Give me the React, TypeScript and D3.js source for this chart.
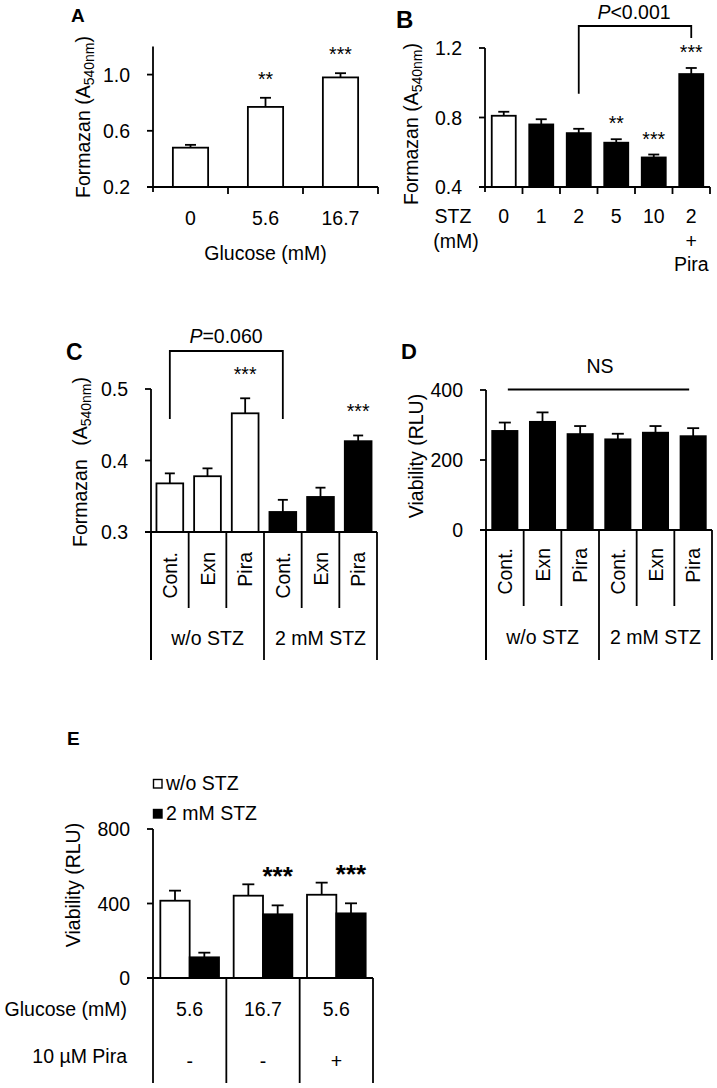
import React from "react";
import * as d3 from "d3";

const FONT = "'Liberation Sans', Arial, Helvetica, sans-serif";
const FS = 19.5;
const SW = 1.8;

// A: formazan vs glucose
const glucoseLevels = ["0", "5.6", "16.7"];
const glucoseMeans = [0.48, 0.77, 0.98];
const glucoseErrs = [0.02, 0.065, 0.03];
const glucoseStars = ["", "**", "***"];
const ticksA = [0.2, 0.6, 1.0];

// B: formazan vs STZ dose
const stzDoses = ["0", "1", "2", "5", "10", "2"];
const stzExtra = ["", "", "", "", "", "Pira"];
const stzTreated = [false, true, true, true, true, true];
const stzMeans = [0.81, 0.76, 0.71, 0.655, 0.57, 1.05];
const stzErrs = [0.023, 0.03, 0.025, 0.02, 0.017, 0.035];
const stzStars = ["", "", "", "**", "***", "***"];
const ticksB = [0.4, 0.8, 1.2];

// C & D: treatments with / without STZ
const treatments = ["Cont.", "Exn", "Pira", "Cont.", "Exn", "Pira"];
const treatGroups = ["w/o STZ", "2 mM STZ"];
const treatStz = [false, false, false, true, true, true];
const formazanMeans = [0.368, 0.378, 0.466, 0.328, 0.349, 0.427];
const formazanErrs = [0.014, 0.011, 0.021, 0.017, 0.013, 0.008];
const formazanStars = ["", "", "***", "", "", "***"];
const ticksC = [0.3, 0.4, 0.5];
const viabilityMeans = [283, 309, 274, 259, 278, 268];
const viabilityErrs = [24, 27, 23, 16, 19, 23];
const ticksD = [0, 200, 400];

// E: viability, glucose / pira
const eSeries = ["w/o STZ", "2 mM STZ"];
const eGlucose = ["5.6", "16.7", "5.6"];
const ePira = ["-", "-", "+"];
const eNoStz = [415, 442, 447];
const eNoStzErr = [54, 61, 65];
const eStz = [111, 342, 347];
const eStzErr = [25, 48, 54];
const eStars = ["", "***", "***"];
const ticksE = [0, 400, 800];

type Lin = d3.ScaleLinear<number, number>;

function YAxis({ x, y, ticks, fmt, bottom }: { x: number; y: Lin; ticks: number[]; fmt: (v: number) => string; bottom: number }) {
  const [, d1] = y.domain();
  return (
    <g>
      <line x1={x} x2={x} y1={y(d1)} y2={bottom} stroke="#000" strokeWidth={SW} />
      {ticks.map((t) => (
        <g key={t}>
          <line x1={x - 6} x2={x} y1={y(t)} y2={y(t)} stroke="#000" strokeWidth={SW} />
          <text x={x - 23} y={y(t)} dy="0.36em" textAnchor="end" fontSize={FS}>
            {fmt(t)}
          </text>
        </g>
      ))}
    </g>
  );
}

function Bar({ cx, w, y, mean, err, fill, cap = 11 }: { cx: number; w: number; y: Lin; mean: number; err: number; fill: string; cap?: number }) {
  const base = y(y.domain()[0]);
  const top = y(mean);
  const et = y(mean + err);
  return (
    <g>
      <line x1={cx} x2={cx} y1={top} y2={et} stroke="#000" strokeWidth={SW} />
      <line x1={cx - cap / 2} x2={cx + cap / 2} y1={et} y2={et} stroke="#000" strokeWidth={SW} />
      <rect x={cx - w / 2} y={top} width={w} height={base - top} fill={fill} stroke="#000" strokeWidth={SW} />
    </g>
  );
}

function FormazanLabel({ x, y, gap = 0 }: { x: number; y: number; gap?: number }) {
  return (
    <text transform={`translate(${x},${y}) rotate(-90)`} textAnchor="middle" fontSize={FS}>
      Formazan
      <tspan dx={gap}> (A</tspan>
      <tspan fontSize={14} dy={4}>540nm</tspan>
      <tspan dy={-4}>)</tspan>
    </text>
  );
}

function PanelA() {
  const x = d3.scaleBand<number>().domain(d3.range(glucoseLevels.length)).range([153, 378]);
  const y = d3.scaleLinear().domain([0.2, 1.2]).range([187, 46.5]);
  const w = x.bandwidth() * 0.47;
  const c = (i: number) => (x(i) as number) + x.bandwidth() / 2;
  return (
    <g>
      <text x={71} y={22} fontSize={19} fontWeight="bold">A</text>
      <FormazanLabel x={90} y={117} />
      {glucoseMeans.map((m, i) => (
        <Bar key={i} cx={c(i)} w={w} y={y} mean={m} err={glucoseErrs[i]} fill="#fff" />
      ))}
      <YAxis x={153} y={y} ticks={ticksA} fmt={d3.format(".1f")} bottom={192} />
      <line x1={147} x2={378} y1={y(0.2)} y2={y(0.2)} stroke="#000" strokeWidth={SW} />
      {d3.range(1, glucoseLevels.length + 1).map((i) => (
        <line key={i} x1={153 + i * x.step()} x2={153 + i * x.step()} y1={y(0.2)} y2={y(0.2) + 7} stroke="#000" strokeWidth={SW} />
      ))}
      {glucoseStars.map((s, i) => (
        <text key={i} x={c(i)} y={y(glucoseMeans[i] + glucoseErrs[i]) - 12} textAnchor="middle" fontSize={FS}>{s}</text>
      ))}
      {glucoseLevels.map((g, i) => (
        <text key={i} x={c(i)} y={225} textAnchor="middle" fontSize={FS}>{g}</text>
      ))}
      <text x={265.5} y={260} textAnchor="middle" fontSize={FS}>Glucose (mM)</text>
    </g>
  );
}

function PanelB() {
  const x = d3.scaleBand<number>().domain(d3.range(stzDoses.length)).range([485, 710]);
  const y = d3.scaleLinear().domain([0.4, 1.2]).range([187, 48]);
  const w = x.bandwidth() * 0.64;
  const c = (i: number) => (x(i) as number) + x.bandwidth() / 2;
  const capY = (i: number) => y(stzMeans[i] + stzErrs[i]);
  return (
    <g>
      <text x={396} y={28} fontSize={24} fontWeight="bold">B</text>
      <FormazanLabel x={418} y={124} />
      {stzMeans.map((m, i) => (
        <Bar key={i} cx={c(i)} w={w} y={y} mean={m} err={stzErrs[i]} fill={stzTreated[i] ? "#000" : "#fff"} />
      ))}
      <YAxis x={485} y={y} ticks={ticksB} fmt={d3.format(".1f")} bottom={192} />
      <line x1={479} x2={710} y1={y(0.4)} y2={y(0.4)} stroke="#000" strokeWidth={SW} />
      {d3.range(1, stzDoses.length + 1).map((i) => (
        <line key={i} x1={485 + i * x.step()} x2={485 + i * x.step()} y1={y(0.4)} y2={y(0.4) + 7} stroke="#000" strokeWidth={SW} />
      ))}
      {stzStars.map((s, i) => (
        <text key={i} x={c(i)} y={capY(i) - 9} textAnchor="middle" fontSize={FS}>{s}</text>
      ))}
      <path
        d={`M${c(2)},${capY(2) - 35}V26H${c(5)}V${capY(5) - 30}`}
        fill="none"
        stroke="#000"
        strokeWidth={SW}
      />
      <text x={634} y={19} textAnchor="middle" fontSize={FS}>
        <tspan fontStyle="italic">P</tspan>{"<0.001"}
      </text>
      <text x={453} y={223} textAnchor="middle" fontSize={FS}>STZ</text>
      <text x={456} y={248} textAnchor="middle" fontSize={FS}>(mM)</text>
      {stzDoses.map((d, i) => (
        <text key={i} x={c(i)} y={223} textAnchor="middle" fontSize={FS}>{d}</text>
      ))}
      {stzExtra.map((e, i) =>
        e ? (
          <g key={i}>
            <text x={c(i)} y={248} textAnchor="middle" fontSize={FS}>+</text>
            <text x={c(i)} y={271} textAnchor="middle" fontSize={FS}>{e}</text>
          </g>
        ) : null
      )}
    </g>
  );
}

function TreatmentAxis({ x, axisY, innerEnd, outerEnd, labelTop, groupY }: { x: d3.ScaleBand<number>; axisY: number; innerEnd: number; outerEnd: number; labelTop: number; groupY: number }) {
  const [x0, x1] = x.range();
  const step = x.step();
  const per = treatments.length / treatGroups.length;
  return (
    <g>
      <line x1={x0 - 6} x2={x1} y1={axisY} y2={axisY} stroke="#000" strokeWidth={SW} />
      {d3.range(treatments.length + 1).map((i) => (
        <line
          key={i}
          x1={x0 + i * step}
          x2={x0 + i * step}
          y1={axisY}
          y2={i % per === 0 ? outerEnd : innerEnd}
          stroke="#000"
          strokeWidth={SW}
        />
      ))}
      {treatments.map((t, i) => (
        <text
          key={i}
          transform={`translate(${(x(i) as number) + step / 2},${labelTop}) rotate(-90)`}
          textAnchor="end"
          dy="0.36em"
          fontSize={FS}
        >
          {t}
        </text>
      ))}
      {treatGroups.map((g, j) => (
        <text key={j} x={x0 + (j * per + per / 2) * step} y={groupY} textAnchor="middle" fontSize={FS}>{g}</text>
      ))}
    </g>
  );
}

function PanelC() {
  const x = d3.scaleBand<number>().domain(d3.range(treatments.length)).range([151, 377]);
  const y = d3.scaleLinear().domain([0.3, 0.5]).range([532, 389]);
  const w = x.bandwidth() * 0.71;
  const c = (i: number) => (x(i) as number) + x.bandwidth() / 2;
  const capY = (i: number) => y(formazanMeans[i] + formazanErrs[i]);
  return (
    <g>
      <text x={66} y={360} fontSize={23} fontWeight="bold">C</text>
      <FormazanLabel x={87} y={462} gap={8} />
      {formazanMeans.map((m, i) => (
        <Bar key={i} cx={c(i)} w={w} y={y} mean={m} err={formazanErrs[i]} fill={treatStz[i] ? "#000" : "#fff"} cap={10} />
      ))}
      <YAxis x={151} y={y} ticks={ticksC} fmt={d3.format(".1f")} bottom={660} />
      <TreatmentAxis x={x} axisY={532} innerEnd={608} outerEnd={660} labelTop={552} groupY={645} />
      {formazanStars.map((s, i) => (
        <text key={i} x={c(i)} y={capY(i) - 17} textAnchor="middle" fontSize={FS}>{s}</text>
      ))}
      <path d={`M${c(0)},419V351H${c(3)}V419`} fill="none" stroke="#000" strokeWidth={SW} />
      <text x={226} y={343} textAnchor="middle" fontSize={FS}>
        <tspan fontStyle="italic">P</tspan>=0.060
      </text>
    </g>
  );
}

function PanelD() {
  const x = d3.scaleBand<number>().domain(d3.range(treatments.length)).range([486, 712]);
  const y = d3.scaleLinear().domain([0, 400]).range([530, 390]);
  const w = x.bandwidth() * 0.67;
  const c = (i: number) => (x(i) as number) + x.bandwidth() / 2;
  return (
    <g>
      <text x={401} y={359} fontSize={22} fontWeight="bold">D</text>
      <text transform="translate(423,456) rotate(-90)" textAnchor="middle" fontSize={FS}>Viability (RLU)</text>
      {viabilityMeans.map((m, i) => (
        <Bar key={i} cx={c(i)} w={w} y={y} mean={m} err={viabilityErrs[i]} fill="#000" cap={12} />
      ))}
      <YAxis x={486} y={y} ticks={ticksD} fmt={d3.format("d")} bottom={660} />
      <TreatmentAxis x={x} axisY={530} innerEnd={606} outerEnd={660} labelTop={548} groupY={644} />
      <line x1={c(0) + 3} x2={c(treatments.length - 1) - 4} y1={389.5} y2={389.5} stroke="#000" strokeWidth={SW} />
      <text x={600} y={373} textAnchor="middle" fontSize={FS}>NS</text>
    </g>
  );
}

function PanelE() {
  const x = d3.scaleBand<number>().domain(d3.range(eGlucose.length)).range([153, 373]);
  const xs = d3.scaleBand<number>().domain(d3.range(eSeries.length)).range([0, x.step()]).paddingOuter(0.25);
  const y = d3.scaleLinear().domain([0, 800]).range([978, 829]);
  const w = xs.bandwidth();
  const c = (g: number, s: number) => (x(g) as number) + (xs(s) as number) + w / 2;
  const series = [
    { means: eNoStz, errs: eNoStzErr, fill: "#fff" },
    { means: eStz, errs: eStzErr, fill: "#000" },
  ];
  return (
    <g>
      <text x={67} y={745} fontSize={19} fontWeight="bold">E</text>
      {eSeries.map((s, j) => (
        <g key={j}>
          <rect x={153.5} y={779.5 + j * 30} width={8.5} height={8.5} fill={series[j].fill} stroke="#000" strokeWidth={1.4} />
          <text x={166} y={790 + j * 30} fontSize={FS}>{s}</text>
        </g>
      ))}
      <text transform="translate(80,885) rotate(-90)" textAnchor="middle" fontSize={FS}>Viability (RLU)</text>
      {series.map((s, j) =>
        s.means.map((m, i) => (
          <Bar key={`${j}-${i}`} cx={c(i, j)} w={w} y={y} mean={m} err={s.errs[i]} fill={s.fill} cap={12} />
        ))
      )}
      <YAxis x={153} y={y} ticks={ticksE} fmt={d3.format("d")} bottom={1083} />
      <line x1={147} x2={373} y1={978} y2={978} stroke="#000" strokeWidth={SW} />
      {d3.range(1, eGlucose.length + 1).map((i) => (
        <line key={i} x1={153 + i * x.step()} x2={153 + i * x.step()} y1={978} y2={1083} stroke="#000" strokeWidth={SW} />
      ))}
      {eStars.map((s, i) => (
        <text key={i} x={c(i, 1)} y={y(eStz[i] + eStzErr[i]) - 20} textAnchor="middle" fontSize={26} fontWeight="bold">{s}</text>
      ))}
      <text x={127} y={1016} textAnchor="end" fontSize={FS}>Glucose (mM)</text>
      <text x={127} y={1063} textAnchor="end" fontSize={FS}>10 µM Pira</text>
      {eGlucose.map((g, i) => (
        <text key={i} x={(x(i) as number) + x.step() / 2} y={1016} textAnchor="middle" fontSize={FS}>{g}</text>
      ))}
      {ePira.map((p, i) => (
        <text key={i} x={(x(i) as number) + x.step() / 2} y={1068} textAnchor="middle" fontSize={FS}>{p}</text>
      ))}
    </g>
  );
}

export default function App() {
  return (
    <svg
      width={717}
      height={1088}
      style={{ position: "absolute", left: 0, top: 0, display: "block" }}
      fontFamily={FONT}
    >
      <rect width={717} height={1088} fill="#fff" />
      <PanelA />
      <PanelB />
      <PanelC />
      <PanelD />
      <PanelE />
    </svg>
  );
}
